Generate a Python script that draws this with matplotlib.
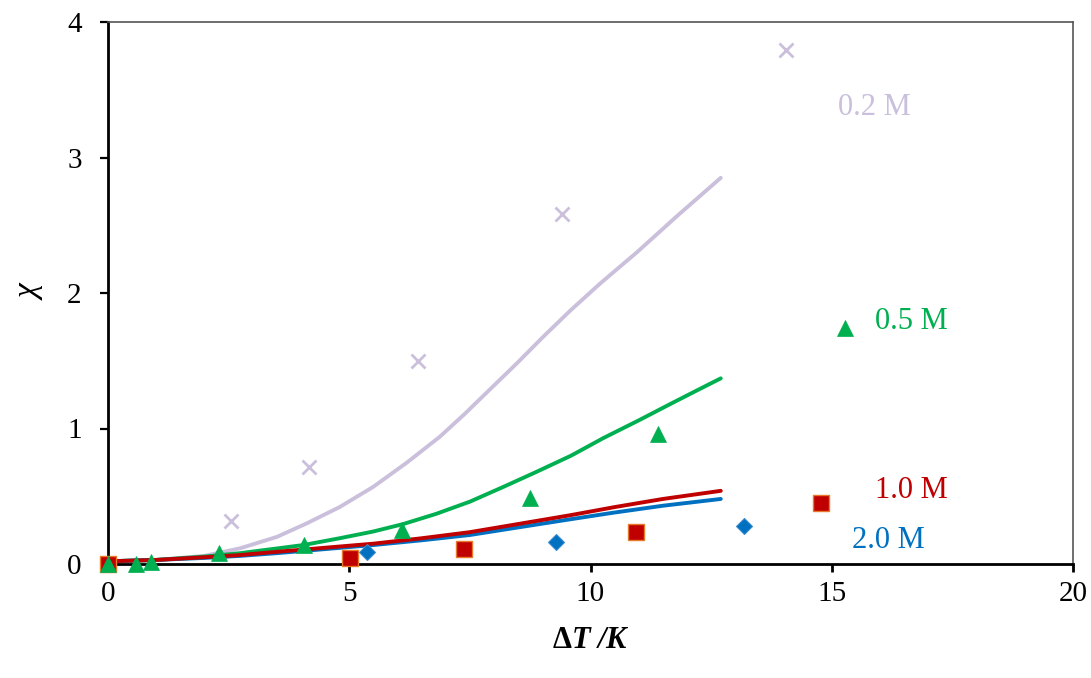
import matplotlib
matplotlib.use("Agg")
import matplotlib.pyplot as plt

plt.rcParams["font.family"] = ["Liberation Serif", "DejaVu Serif"]
plt.rcParams["mathtext.fontset"] = "custom"
plt.rcParams["mathtext.rm"] = "Liberation Serif"
plt.rcParams["mathtext.bf"] = "Liberation Serif:bold"
plt.rcParams["mathtext.it"] = "Liberation Serif:italic"
plt.rcParams["mathtext.bfit"] = "Liberation Serif:italic:bold"

# Measured points for each concentration
x_02 = [0.0, 2.55, 4.17, 6.42, 9.41, 14.05]
y_02 = [0.0, 0.317, 0.716, 1.50, 2.58, 3.79]

x_05 = [0.0, 0.58, 0.89, 2.30, 4.06, 6.09, 8.75, 11.40, 15.27]
y_05 = [0.0, 0.0, 0.015, 0.08, 0.14, 0.25, 0.49, 0.96, 1.74]

x_10 = [0.0, 5.02, 7.38, 10.94, 14.78]
y_10 = [0.0, 0.045, 0.11, 0.236, 0.45]

x_20 = [0.0, 5.36, 9.28, 13.18]
y_20 = [0.0, 0.09, 0.16, 0.283]

# Model curves
cx_02 = [0.0, 1.0, 2.0, 2.74, 3.5, 4.12, 4.8, 5.5, 6.2, 6.88, 7.4, 7.92,
         8.5, 9.0, 9.58, 10.2, 10.96, 11.8, 12.7]
cy_02 = [0.02, 0.03, 0.06, 0.116, 0.20, 0.30, 0.42, 0.57, 0.75, 0.94, 1.11,
         1.29, 1.49, 1.67, 1.87, 2.07, 2.30, 2.57, 2.85]

cx_05 = [0.0, 1.0, 2.0, 2.74, 3.4, 4.05, 4.8, 5.5, 6.12, 6.8, 7.5, 8.2,
         8.88, 9.6, 10.27, 11.0, 11.65, 12.2, 12.7]
cy_05 = [0.02, 0.03, 0.055, 0.08, 0.11, 0.14, 0.19, 0.24, 0.295, 0.37,
         0.46, 0.57, 0.68, 0.80, 0.93, 1.06, 1.18, 1.28, 1.37]

cx_10 = [0.0, 1.0, 2.0, 2.74, 3.5, 4.5, 5.5, 6.5, 7.5, 8.5, 9.58, 10.5,
         11.5, 12.7]
cy_10 = [0.02, 0.03, 0.05, 0.066, 0.09, 0.12, 0.15, 0.19, 0.235, 0.295,
         0.36, 0.42, 0.48, 0.54]

cx_20 = [0.0, 1.0, 2.0, 2.74, 3.5, 4.5, 5.5, 6.5, 7.5, 8.5, 9.58, 10.5,
         11.5, 12.7]
cy_20 = [0.02, 0.03, 0.045, 0.06, 0.08, 0.11, 0.14, 0.175, 0.214, 0.27,
         0.33, 0.38, 0.43, 0.48]

series_labels = ["0.2 M", "0.5 M", "1.0 M", "2.0 M"]
label_pos = [(15.13, 3.37), (15.89, 1.79), (15.89, 0.546), (15.42, 0.17)]

c_lav = "#cbc0dc"
c_green = "#00b050"
c_red = "#c00000"
c_blue = "#0070c0"
label_colors = [c_lav, c_green, c_red, c_blue]

fig = plt.figure(figsize=(10.91, 6.78), dpi=100)
ax = fig.add_axes([108 / 1091, 114 / 678, (1073 - 108) / 1091, (564 - 22) / 678])

line_kw = dict(lw=2.8, solid_capstyle="round", solid_joinstyle="round", zorder=2)
ax.plot(cx_02, cy_02, color=c_lav, **line_kw)
ax.plot(cx_05, cy_05, color=c_green, **line_kw)
ax.plot(cx_20, cy_20, color=c_blue, **line_kw)
ax.plot(cx_10, cy_10, color=c_red, **line_kw)

ax.plot(x_02, y_02, ls="none", marker="x", ms=10, mew=2.0, color=c_lav,
        clip_on=False, zorder=3)
ax.plot(x_20, y_20, ls="none", marker="D", ms=8, mew=0.8, color=c_blue,
        mec="#3a8ad0", clip_on=False, zorder=3)
ax.plot(x_10, y_10, ls="none", marker="s", ms=11, mew=1.0, color=c_red,
        mec="#e8782a", clip_on=False, zorder=4)
ax.plot(x_05, y_05, ls="none", marker="^", ms=11, mew=0.5, color=c_green,
        clip_on=False, zorder=5)

for txt, (tx, ty), col in zip(series_labels, label_pos, label_colors):
    ax.text(tx, ty, txt, color=col, fontsize=22, ha="left", va="center")

ax.set_xlim(0, 20)
ax.set_ylim(0, 4)
ax.set_xticks([0, 5, 10, 15, 20])
ax.set_yticks([0, 1, 2, 3, 4])

for side in ("left", "bottom"):
    ax.spines[side].set_linewidth(2.0)
    ax.spines[side].set_color("black")
for side in ("top", "right"):
    ax.spines[side].set_linewidth(1.2)
    ax.spines[side].set_color("#555555")

ax.tick_params(axis="x", direction="out", length=6, width=2.0, pad=6,
               labelsize=21, top=False)
ax.tick_params(axis="y", direction="out", length=6, width=1.6, pad=13,
               labelsize=21, right=False)

ax.set_xlabel(r"$\mathbf{\Delta}\mathbfit{T}\ \mathbfit{/K}$", fontsize=22)
ax.xaxis.set_label_coords(0.5, -0.115)
ax.set_ylabel("χ", fontsize=24, fontstyle="italic")
ax.yaxis.set_label_coords(-0.065, 0.5)

fig.savefig("out.png", dpi=100)
